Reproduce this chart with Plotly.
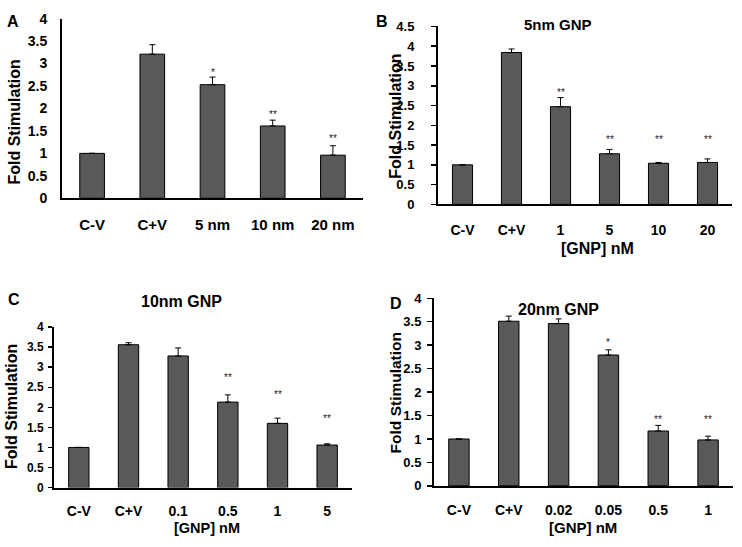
import plotly.graph_objects as go

W, H = 742, 547

# ---------------- data ----------------
a_cats = ["C-V", "C+V", "5 nm", "10 nm", "20 nm"]
a_vals = [1.0, 3.21, 2.53, 1.61, 0.96]
a_err = [0.0, 0.21, 0.17, 0.13, 0.21]
a_stars = ["", "", "*", "**", "**"]
a_star_y = [None, None, 2.80, 1.86, 1.32]

b_cats = ["C-V", "C+V", "1", "5", "10", "20"]
b_vals = [1.0, 3.84, 2.47, 1.28, 1.04, 1.06]
b_err = [0.0, 0.09, 0.23, 0.11, 0.02, 0.09]
b_stars = ["", "", "**", "**", "**", "**"]
b_star_y = [None, None, 2.82, 1.63, 1.63, 1.63]

c_cats = ["C-V", "C+V", "0.1", "0.5", "1", "5"]
c_vals = [1.0, 3.56, 3.28, 2.13, 1.60, 1.06]
c_err = [0.0, 0.05, 0.20, 0.18, 0.13, 0.03]
c_stars = ["", "", "", "**", "**", "**"]
c_star_y = [None, None, None, 2.74, 2.33, 1.73]

d_cats = ["C-V", "C+V", "0.02", "0.05", "0.5", "1"]
d_vals = [1.0, 3.51, 3.46, 2.79, 1.17, 0.98]
d_err = [0.0, 0.11, 0.10, 0.11, 0.12, 0.08]
d_stars = ["", "", "", "*", "**", "**"]
d_star_y = [None, None, None, 3.05, 1.41, 1.41]

y_ticks_a = [0, 0.5, 1, 1.5, 2, 2.5, 3, 3.5, 4]
y_ticks_b = [0, 0.5, 1, 1.5, 2, 2.5, 3, 3.5, 4, 4.5]

FONT = "Liberation Sans, Arial, sans-serif"
BAR = "#595959"


def xd(a, b):
    return [a / W, b / W]


def yd(top, bottom):
    return [1 - bottom / H, 1 - top / H]


panels = [
    dict(cats=a_cats, vals=a_vals, err=a_err, stars=a_stars, sy=a_star_y,
         xdom=xd(62, 363), ydom=yd(11, 196), ymax=4, yt=y_ticks_a,
         xfs=15, yfs=14, ticklen=0, standoff=10, xtl=12),
    dict(cats=b_cats, vals=b_vals, err=b_err, stars=b_stars, sy=b_star_y,
         xdom=xd(438, 732), ydom=yd(19, 202.3), ymax=4.5, yt=y_ticks_b,
         xfs=14, yfs=13, ticklen=5, standoff=14, xtl=12),
    dict(cats=c_cats, vals=c_vals, err=c_err, stars=c_stars, sy=c_star_y,
         xdom=xd(54, 352), ydom=yd(328.7, 494), ymax=4, yt=y_ticks_a,
         xfs=14, yfs=12, ticklen=4, standoff=2, xtl=10),
    dict(cats=d_cats, vals=d_vals, err=d_err, stars=d_stars, sy=d_star_y,
         xdom=xd(434, 733), ydom=yd(299, 492.3), ymax=4, yt=y_ticks_a,
         xfs=14, yfs=13, ticklen=5, standoff=3, xtl=10),
]

fig = go.Figure()
annotations = []
layout = {}

for i, p in enumerate(panels, start=1):
    sfx = "" if i == 1 else str(i)
    xa, ya = "x" + sfx, "y" + sfx
    fig.add_trace(go.Bar(
        x=p["cats"], y=p["vals"], xaxis=xa, yaxis=ya,
        width=0.41,
        marker=dict(color=BAR, line=dict(color="black", width=1)),
        error_y=dict(type="data", array=p["err"], arrayminus=[0] * len(p["err"]),
                     symmetric=False, color="black", thickness=1, width=3),
        showlegend=False, hoverinfo="skip",
    ))
    layout["xaxis" + sfx] = dict(
        domain=p["xdom"], anchor=ya, type="category",
        range=[-0.5, len(p["cats"]) - 0.5],
        showline=True, linecolor="black", linewidth=2,
        ticks="outside", ticklen=p["xtl"], tickcolor="rgba(0,0,0,0)",
        tickfont=dict(family=FONT, size=p["xfs"], color="black", weight="bold"),
        showgrid=False, zeroline=False, fixedrange=True,
    )
    layout["yaxis" + sfx] = dict(
        domain=p["ydom"], anchor=xa, range=[0, p["ymax"]],
        tickvals=p["yt"], ticktext=[f"{v:g}" for v in p["yt"]],
        showline=True, linecolor="black", linewidth=2,
        ticks="outside" if p["ticklen"] else "", ticklen=p["ticklen"],
        tickcolor="black", tickwidth=1.5,
        ticklabelstandoff=p["standoff"],
        tickfont=dict(family=FONT, size=p["yfs"], color="black", weight="bold"),
        showgrid=False, zeroline=False, fixedrange=True,
    )
    for k, (s, y) in enumerate(zip(p["stars"], p["sy"])):
        if s:
            annotations.append(dict(
                x=k, y=y, xref=xa, yref=ya, text=s, showarrow=False,
                font=dict(family=FONT, size=10, color="#222222"),
                yanchor="middle", xanchor="center",
            ))


def pa(text, x, y, size, angle=0):
    annotations.append(dict(
        text=text, x=x / W, y=1 - y / H, xref="paper", yref="paper",
        showarrow=False, textangle=angle, xanchor="center", yanchor="middle",
        font=dict(family=FONT, size=size, color="black", weight="bold"),
    ))


pa("A", 13, 14, 16)
pa("B", 382, 14, 16)
pa("C", 14, 300, 16)
pa("D", 396, 304, 16)

pa("5nm GNP", 558, 17, 15)
pa("10nm GNP", 181, 302, 16)
pa("20nm GNP", 558, 311, 16)

pa("Fold Stimulation", 15, 118, 16, -90)
pa("Fold Stimulation", 396, 112, 16, -90)
pa("Fold Stimulation", 12, 411, 16, -90)
pa("Fold Stimulation", 395, 397, 15.5, -90)

pa("[GNP] nM", 597, 248, 16)
pa("[GNP] nM", 207, 536, 14.5)
pa("[GNP] nM", 583, 535, 15)

fig.update_layout(
    width=W, height=H,
    margin=dict(l=0, r=0, t=0, b=0),
    paper_bgcolor="white", plot_bgcolor="white",
    annotations=annotations,
    **layout,
)

fig.write_html(
    "out.html",
    config={"displayModeBar": False, "staticPlot": True},
    post_script="document.body.style.margin='0px';document.body.style.overflow='hidden';",
)
